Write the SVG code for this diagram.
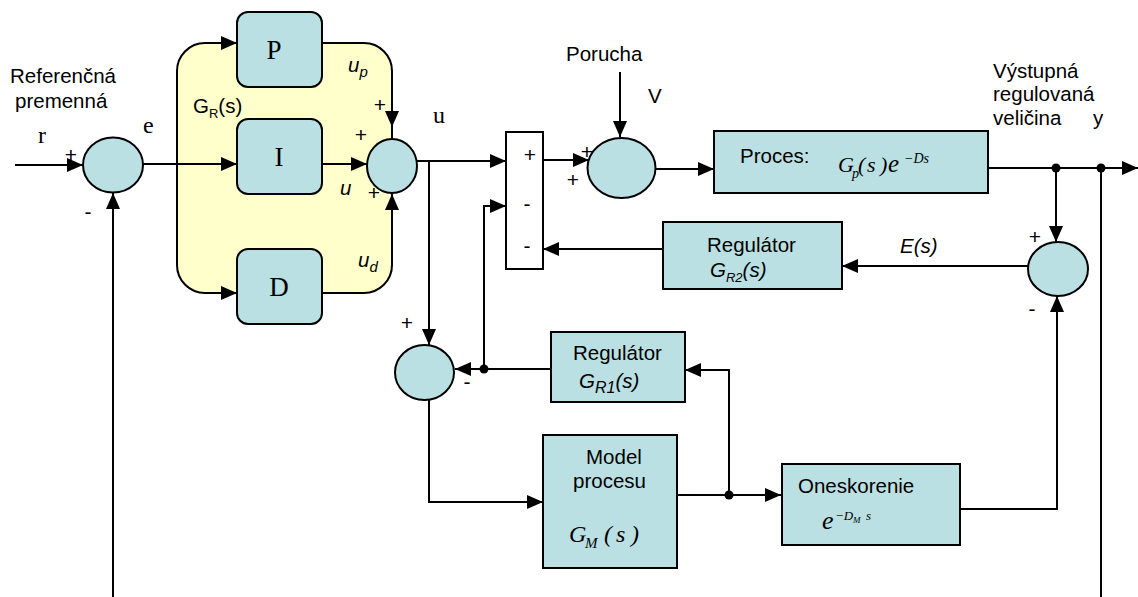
<svg xmlns="http://www.w3.org/2000/svg" width="1138" height="597" viewBox="0 0 1138 597">
  <defs>
    <marker id="ah" markerUnits="userSpaceOnUse" markerWidth="16" markerHeight="14" refX="16" refY="7" orient="auto">
      <path d="M0,0 L16,7 L0,14 z" fill="#000"/>
    </marker>
    <style>
      .blk { fill: #bae0e3; stroke: #000; stroke-width: 2; }
      .box { fill: #ffffff; stroke: #000; stroke-width: 2; }
      .ln { fill: none; stroke: #000; stroke-width: 2; }
      .arr { marker-end: url(#ah); }
      .dot { fill: #000; }
      .t { font-family: "Liberation Sans", Arial, sans-serif; font-size: 20.5px; fill: #000; }
      .it { font-style: italic; }
      .sg { font-family: "Liberation Sans", Arial, sans-serif; font-size: 21px; fill: #000; text-anchor: middle; }
      .m { font-family: "Liberation Serif", "Times New Roman", serif; font-style: italic; fill: #000; }
      .pid { font-family: "Liberation Serif", "Times New Roman", serif; font-size: 27px; fill: #000; text-anchor: middle; }
      .sv { font-family: "Liberation Serif", "Times New Roman", serif; font-size: 24px; fill: #000; }
    </style>
  </defs>

  <rect width="1138" height="597" fill="#ffffff"/>

  <!-- PID controller area G_R(s) -->
  <g id="pid-area">
    <rect x="177" y="43" width="215" height="250" rx="28" ry="28" fill="#ffffcc"/>
    <text class="t" x="193" y="113" font-size="20">G<tspan font-size="13" dy="5">R</tspan><tspan dy="-5">(s)</tspan></text>
  </g>

  <!-- nodes -->
  <g id="sum-ref">
    <ellipse class="blk" cx="113" cy="165" rx="30" ry="27.5"/>
  </g>
  <g id="block-p">
    <rect class="blk" x="237" y="12" width="85" height="75" rx="11"/>
    <text class="pid" x="274" y="59">P</text>
  </g>
  <g id="block-i">
    <rect class="blk" x="237" y="119" width="85" height="75" rx="11"/>
    <text class="pid" x="279" y="166">I</text>
  </g>
  <g id="block-d">
    <rect class="blk" x="237" y="249" width="85" height="75" rx="11"/>
    <text class="pid" x="279" y="296">D</text>
  </g>
  <g id="sum-pid">
    <ellipse class="blk" cx="392" cy="166" rx="25" ry="27"/>
  </g>
  <g id="sum-feedback">
    <rect class="box" x="506" y="132" width="37" height="137"/>
    <text class="sg" x="530" y="162">+</text>
    <text class="sg" x="527" y="211">-</text>
    <text class="sg" x="527" y="253">-</text>
  </g>
  <g id="sum-disturbance">
    <ellipse class="blk" cx="621.5" cy="168" rx="34" ry="30"/>
  </g>
  <g id="process">
    <rect class="blk" x="714" y="131" width="274" height="62"/>
    <text class="t" x="740" y="163" font-size="24">Proces:</text>
    <text class="m" font-size="22">
      <tspan x="838" y="172">G</tspan><tspan x="852" y="178" font-size="14">p</tspan><tspan x="858" y="172">(</tspan><tspan x="867" y="172">s</tspan><tspan x="880" y="172">)</tspan><tspan x="888" y="172" font-size="25">e</tspan><tspan x="904" y="163" font-size="14">−Ds</tspan>
    </text>
  </g>
  <g id="sum-error">
    <ellipse class="blk" cx="1058" cy="269" rx="30" ry="27"/>
  </g>
  <g id="regulator-gr2">
    <rect class="blk" x="663" y="222" width="179" height="67"/>
    <text class="t" x="707" y="252">Regulátor</text>
    <text class="t it" x="710" y="277" font-size="19">G<tspan font-size="13" dy="5">R2</tspan><tspan dy="-5">(s)</tspan></text>
  </g>
  <g id="sum-model">
    <ellipse class="blk" cx="424.5" cy="372.5" rx="29.5" ry="27.5"/>
  </g>
  <g id="regulator-gr1">
    <rect class="blk" x="551" y="332" width="134" height="70"/>
    <text class="t" x="573" y="360" font-size="21">Regulátor</text>
    <text class="t it" x="579" y="388" font-size="23">G<tspan font-size="16" dy="5">R1</tspan><tspan dy="-5">(s)</tspan></text>
  </g>
  <g id="process-model">
    <rect class="blk" x="543" y="435" width="134" height="133"/>
    <text class="t" x="586" y="464">Model</text>
    <text class="t" x="573" y="488">procesu</text>
    <text class="m" font-size="24">
      <tspan x="569" y="542">G</tspan><tspan x="585" y="548" font-size="15">M</tspan><tspan x="604" y="542">(</tspan><tspan x="616" y="542">s</tspan><tspan x="631" y="542">)</tspan>
    </text>
  </g>
  <g id="delay">
    <rect class="blk" x="782" y="464" width="178" height="81"/>
    <text class="t" x="798" y="493">Oneskorenie</text>
    <text class="m" font-size="26">
      <tspan x="822" y="529">e</tspan><tspan x="835" y="520" font-size="13">−D</tspan><tspan x="853" y="523" font-size="9">M</tspan><tspan x="866" y="520" font-size="13">s</tspan>
    </text>
  </g>

  <!-- connectors -->
  <g id="connectors">
    <path class="ln arr" d="M15,165 H83"/>
    <path class="ln arr" d="M113,597 V193"/>
    <path class="ln arr" d="M143,164 H237"/>
    <path class="ln arr" d="M177,164 V71 A28,28 0 0 1 205,43 H237"/>
    <path class="ln arr" d="M177,164 V265 A28,28 0 0 0 205,293 H237"/>
    <path class="ln arr" d="M322,43 H364 A28,28 0 0 1 392,71 V127"/>
    <path class="ln" d="M392,125 V139"/>
    <path class="ln arr" d="M322,293 H364 A28,28 0 0 0 392,265 V194"/>
    <path class="ln arr" d="M322,164 H367"/>
    <path class="ln arr" d="M417,161 H506"/>
    <path class="ln arr" d="M429,161 V345"/>
    <path class="ln arr" d="M543,160 H589"/>
    <path class="ln arr" d="M620,72 V137"/>
    <path class="ln arr" d="M656,169 H714"/>
    <path class="ln arr" d="M988,168 H1138"/>
    <path class="ln arr" d="M1056,168 V242"/>
    <path class="ln" d="M1101,168 V597"/>
    <path class="ln arr" d="M1028,266 H842"/>
    <path class="ln arr" d="M663,249 H543"/>
    <path class="ln arr" d="M484,369 V206 H506"/>
    <path class="ln arr" d="M551,369 H455"/>
    <path class="ln arr" d="M429,400 V502 H543"/>
    <path class="ln arr" d="M677,495 H781"/>
    <path class="ln arr" d="M729,495 V370 H685"/>
    <path class="ln arr" d="M960,509 H1057 V296"/>
    <circle class="dot" cx="484" cy="369" r="4.5"/>
    <circle class="dot" cx="729" cy="495" r="4.5"/>
    <circle class="dot" cx="1056" cy="168" r="4.5"/>
    <circle class="dot" cx="1101" cy="168" r="4.5"/>
  </g>

  <!-- signal names and signs -->
  <g id="labels">
    <text class="t" x="10" y="83">Referenčná</text>
    <text class="t" x="15" y="108">premenná</text>
    <text class="sv" x="38" y="143">r</text>
    <text class="sv" x="143" y="133">e</text>
    <text class="sv" x="433" y="123">u</text>
    <text class="sg" x="71" y="162">+</text>
    <text class="sg" x="88" y="219">-</text>
    <text class="t it" x="348" y="72" font-size="21">u<tspan font-size="15" dy="5">p</tspan></text>
    <text class="t it" x="358" y="267" font-size="21">u<tspan font-size="15" dy="5">d</tspan></text>
    <text class="t it" x="340" y="195" font-size="21">u</text>
    <text class="sg" x="380" y="112">+</text>
    <text class="sg" x="361" y="142">+</text>
    <text class="sg" x="374" y="200">+</text>
    <text class="t" x="566" y="61">Porucha</text>
    <text class="t" x="648" y="103" font-size="18">V</text>
    <text class="sg" x="587" y="159">+</text>
    <text class="sg" x="573" y="187">+</text>
    <text class="t" x="993" y="78">Výstupná</text>
    <text class="t" x="993" y="101">regulovaná</text>
    <text class="t" x="993" y="125">veličina</text>
    <text class="t" x="1093" y="125">y</text>
    <text class="t it" x="900" y="253" font-size="23">E(s)</text>
    <text class="sg" x="1035" y="244">+</text>
    <text class="sg" x="1032" y="316">-</text>
    <text class="sg" x="407" y="330">+</text>
    <text class="sg" x="467" y="389">-</text>
  </g>
</svg>
